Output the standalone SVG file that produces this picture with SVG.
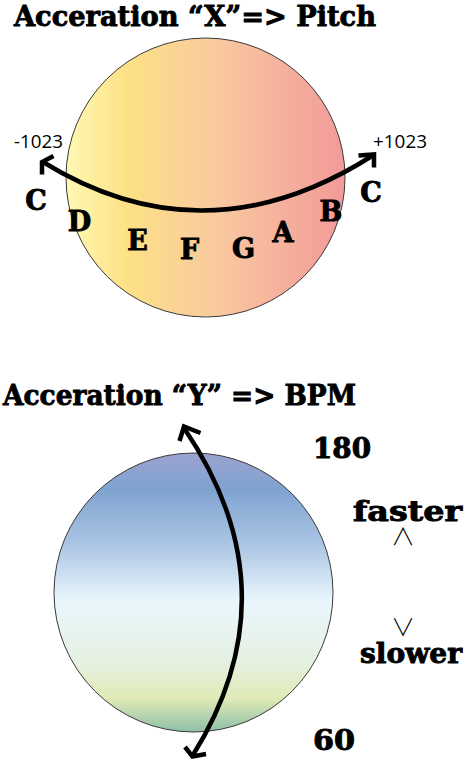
<svg xmlns="http://www.w3.org/2000/svg" width="467" height="761" viewBox="0 0 467 761">
<defs>
<linearGradient id="gx" x1="0" y1="0" x2="1" y2="0">
<stop offset="0" stop-color="#fff8b4"/>
<stop offset="0.22" stop-color="#fde186"/>
<stop offset="0.55" stop-color="#f9c8a0"/>
<stop offset="1" stop-color="#f29a99"/>
</linearGradient>
<linearGradient id="gy" x1="0" y1="0" x2="0" y2="1">
<stop offset="0" stop-color="#9ba2cf"/>
<stop offset="0.13" stop-color="#7fa3cf"/>
<stop offset="0.32" stop-color="#a9c3e3"/>
<stop offset="0.53" stop-color="#e9f6fd"/>
<stop offset="0.74" stop-color="#e5f1e2"/>
<stop offset="0.88" stop-color="#e0eab6"/>
<stop offset="1" stop-color="#8dbfa8"/>
</linearGradient>
</defs>
<style>
.ball{stroke:#3a3a3a;stroke-width:1}
.title{font-family:"DejaVu Serif","Liberation Serif",serif;font-weight:bold;font-size:28px;fill:#000;stroke:#000;stroke-width:0.9}
.note{font-family:"DejaVu Serif","Liberation Serif",serif;font-weight:bold;font-size:27px;fill:#000;stroke:#000;stroke-width:0.9;text-anchor:middle}
.num{font-family:"Open Sans","DejaVu Sans",sans-serif;font-size:18px;fill:#000}
.sym{font-family:"Noto Sans CJK JP","DejaVu Sans",sans-serif;font-weight:300;font-size:24px;fill:#000;text-anchor:middle}
.arc{fill:none;stroke:#000;stroke-width:4.5;stroke-linecap:butt}
.head{fill:none;stroke:#000;stroke-width:4.5;stroke-linejoin:miter}
</style>

<g id="pitch">
<text class="title" x="14" y="26" textLength="362" lengthAdjust="spacingAndGlyphs">Acceration “X”=&gt; Pitch</text>
<circle class="ball" cx="205.5" cy="177.5" r="139.5" fill="url(#gx)"/>
<text class="num" x="14" y="148" textLength="49" lengthAdjust="spacingAndGlyphs">-1023</text>
<text class="num" x="373" y="148" textLength="54" lengthAdjust="spacingAndGlyphs">+1023</text>
<text class="note" x="36" y="210">C</text>
<text class="note" x="79.5" y="231">D</text>
<text class="note" x="137.5" y="250">E</text>
<text class="note" x="189.5" y="259">F</text>
<text class="note" x="243.5" y="258">G</text>
<text class="note" x="283" y="242">A</text>
<text class="note" x="331" y="221">B</text>
<text class="note" x="371" y="202">C</text>
</g>

<g id="bpm">
<text class="title" x="3" y="405" textLength="353" lengthAdjust="spacingAndGlyphs">Acceration “Y” =&gt; BPM</text>
<circle class="ball" cx="193.5" cy="592.5" r="139.5" fill="url(#gy)"/>
<text class="title" x="313" y="458" textLength="58" lengthAdjust="spacingAndGlyphs">180</text>
<text class="title" x="353" y="521" textLength="109" lengthAdjust="spacingAndGlyphs">faster</text>
<text class="sym" x="403" y="545">∧</text>
<text class="sym" x="403" y="636">∨</text>
<text class="title" x="360" y="663" textLength="102" lengthAdjust="spacingAndGlyphs">slower</text>
<text class="title" x="313" y="750" textLength="42" lengthAdjust="spacingAndGlyphs">60</text>
</g>

<g id="connectors">
<path class="arc" d="M43,162 Q205,262 372,156"/>
<path class="head" d="M53.5,156 L42,162 L42,174.5"/>
<path class="head" d="M358.5,155.5 L374,154.5 L374,167.5"/>
<path class="arc" d="M184,428 Q295,591 193,755"/>
<path class="head" d="M179.5,441 L184,426.5 L200.5,433"/>
<path class="head" d="M185,747 L192.5,756.5 L206,754"/>
</g>
</svg>
